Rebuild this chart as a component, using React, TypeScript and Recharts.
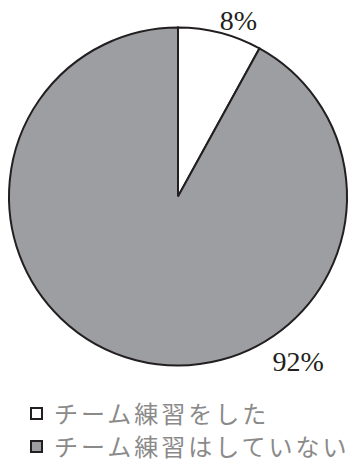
import React from 'react';
import { PieChart, Pie, Cell, Legend } from 'recharts';

const categories = ['チーム練習をした', 'チーム練習はしていない'];
const values = [8, 92];
const labels = ['8%', '92%'];
const colors = ['#ffffff', '#9d9ea2'];

const data = categories.map((name, i) => ({ name, value: values[i], label: labels[i] }));

// label placement (angle in degrees, radius factor) – styling only
const LABEL_PLACEMENT = [
  { angle: 71, r: 1.1 },
  { angle: -54, r: 1.21 },
];

const RADIAN = Math.PI / 180;

const renderLabel = (props: any) => {
  const { cx, cy, outerRadius, index } = props;
  const p = LABEL_PLACEMENT[index];
  const x = cx + outerRadius * p.r * Math.cos(p.angle * RADIAN);
  const y = cy - outerRadius * p.r * Math.sin(p.angle * RADIAN);
  return (
    <text
      x={x}
      y={y}
      textAnchor="middle"
      dominantBaseline="central"
      fill="#231f20"
      fontFamily="'Liberation Serif', 'DejaVu Serif', serif"
      fontSize={28}
    >
      {data[index].label}
    </text>
  );
};

const renderLegend = () => (
  <div>
    {data.map((d, i) => (
      <div
        key={d.name}
        style={{ display: 'flex', alignItems: 'center', height: 30, marginBottom: i === 0 ? 3 : 0 }}
      >
        <svg width={13} height={13} style={{ marginRight: 11, flexShrink: 0 }}>
          <rect x={1} y={1} width={11} height={11} fill={colors[i]} stroke="#231f20" strokeWidth={2} />
        </svg>
        <div
          style={{
            fontFamily: "'Noto Sans CJK JP', sans-serif",
            fontSize: 24,
            letterSpacing: 3,
            color: '#8a8a8a',
            whiteSpace: 'nowrap',
            lineHeight: '30px',
          }}
        >
          {d.name}
        </div>
      </div>
    ))}
  </div>
);

export default function App() {
  return (
    <div style={{ position: 'absolute', left: 0, top: 0, width: 361, height: 463, background: '#fff' }}>
      <PieChart width={361} height={463} margin={{ top: 0, right: 0, bottom: 0, left: 0 }}>
        <Pie
          data={data}
          dataKey="value"
          nameKey="name"
          cx={178}
          cy={196.5}
          outerRadius={169}
          startAngle={90}
          endAngle={-270}
          stroke="#231f20"
          strokeWidth={2}
          label={renderLabel}
          labelLine={false}
          isAnimationActive={false}
        >
          {data.map((d, i) => (
            <Cell key={d.name} fill={colors[i]} />
          ))}
        </Pie>
        <Legend
          content={renderLegend}
          layout="vertical"
          wrapperStyle={{ position: 'absolute', left: 30, top: 398, width: 331 }}
        />
      </PieChart>
    </div>
  );
}
